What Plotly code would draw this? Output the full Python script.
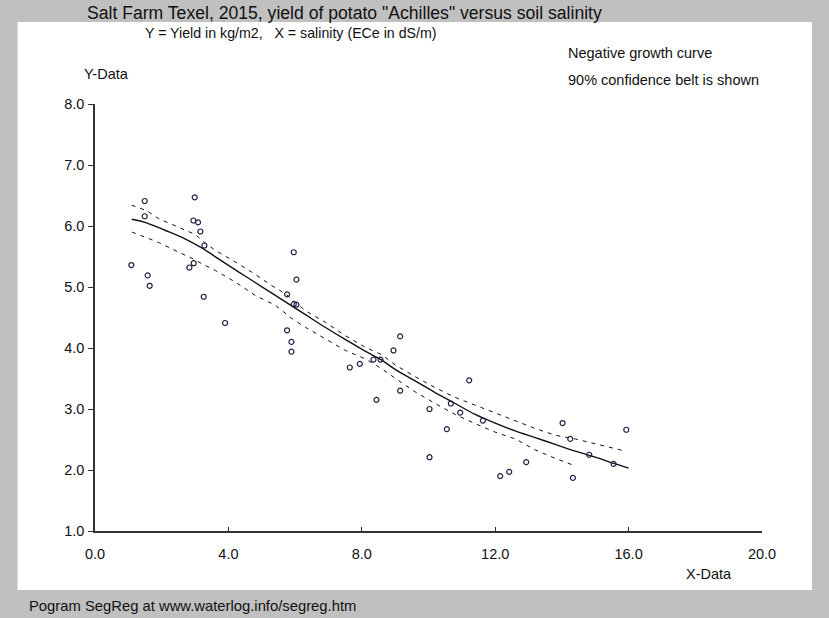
import plotly.graph_objects as go

# Observed yield of potato "Achilles" (kg/m2) versus soil salinity ECe (dS/m)
salinity = [1.09, 1.49, 1.49, 1.58, 1.64, 2.99, 2.95, 3.09, 3.16, 3.28, 2.96, 2.83, 3.26, 3.90,
            5.96, 6.04, 5.76, 6.04, 5.96, 5.76, 5.89, 5.89, 9.15, 8.95, 8.35, 8.56, 7.94, 7.64,
            9.15, 8.44, 11.22, 10.03, 10.67, 10.95, 11.63, 10.55, 10.03, 12.93, 12.15, 12.42,
            14.02, 14.25, 15.93, 14.82, 15.55, 14.33]
yield_obs = [5.36, 6.41, 6.16, 5.19, 5.02, 6.47, 6.09, 6.06, 5.91, 5.68, 5.39, 5.32, 4.84, 4.41,
             5.57, 5.12, 4.88, 4.71, 4.72, 4.29, 4.10, 3.94, 4.19, 3.96, 3.81, 3.81, 3.74, 3.68,
             3.30, 3.15, 3.47, 3.00, 3.09, 2.94, 2.81, 2.67, 2.21, 2.13, 1.90, 1.97,
             2.77, 2.51, 2.66, 2.25, 2.10, 1.87]

# Negative growth curve fitted through the observations
fit_x = [1.1, 1.5, 2.1, 2.7, 3.2, 3.9, 4.5, 5.1, 5.7, 6.3, 6.9, 7.5, 8.1, 8.6, 9.0,
         9.6, 10.2, 10.8, 11.4, 12.0, 12.6, 13.2, 13.8, 14.4, 15.0, 15.6, 16.0]
fit_y = [6.11, 6.06, 5.93, 5.79, 5.64, 5.39, 5.18, 4.97, 4.76, 4.55, 4.34, 4.14, 3.95, 3.80, 3.65,
         3.46, 3.27, 3.09, 2.91, 2.77, 2.64, 2.53, 2.42, 2.31, 2.21, 2.10, 2.03]

# 90% confidence belt
upper_x = [1.1, 1.56, 1.91, 2.51, 3.01, 3.21, 3.61, 4.21, 4.71, 5.31, 5.71, 6.31, 6.91, 7.51,
           8.11, 8.6, 9.01, 9.6, 10.2, 10.8, 11.4, 12.0, 12.6, 13.2, 13.8, 14.4, 15.0, 15.9]
upper_y = [6.34, 6.25, 6.12, 5.98, 5.86, 5.76, 5.60, 5.41, 5.24, 5.02, 4.89, 4.61, 4.42, 4.20,
           4.01, 3.89, 3.72, 3.53, 3.35, 3.19, 3.06, 2.94, 2.81, 2.68, 2.57, 2.51, 2.43, 2.31]
lower_x = [1.11, 1.51, 1.91, 2.51, 2.91, 3.21, 3.61, 4.21, 4.81, 5.41, 5.91, 6.31, 6.91, 7.51,
           8.11, 8.6, 9.01, 9.6, 10.2, 10.8, 11.4, 12.0, 12.6, 13.2, 13.8, 14.34]
lower_y = [5.90, 5.82, 5.73, 5.57, 5.47, 5.38, 5.27, 5.08, 4.86, 4.70, 4.48, 4.34, 4.15, 3.96,
           3.82, 3.66, 3.50, 3.28, 3.09, 2.91, 2.76, 2.62, 2.51, 2.33, 2.19, 2.08]

x_ticks = [0, 4, 8, 12, 16, 20]
x_tick_labels = ["0.0", "4.0", "8.0", "12.0", "16.0", "20.0"]
y_ticks = [1, 2, 3, 4, 5, 6, 7, 8]
y_tick_labels = ["1.0", "2.0", "3.0", "4.0", "5.0", "6.0", "7.0", "8.0"]

W, H = 829, 618
L, R, T, B = 94.5, 67, 104, 87
PW, PH = W - L - R, H - T - B


def px(x):
    return (x - L) / PW


def py(y):
    return (H - B - y) / PH


FONT = "Liberation Sans, Arial, sans-serif"
TXT = 14.5

fig = go.Figure()
fig.add_trace(go.Scatter(x=upper_x, y=upper_y, mode="lines",
                         line=dict(color="#111111", width=1, dash="4px,5px"), hoverinfo="skip"))
fig.add_trace(go.Scatter(x=lower_x, y=lower_y, mode="lines",
                         line=dict(color="#111111", width=1, dash="4px,5px"), hoverinfo="skip"))
fig.add_trace(go.Scatter(x=fit_x, y=fit_y, mode="lines",
                         line=dict(color="#111111", width=1.4, shape="spline"), hoverinfo="skip"))
fig.add_trace(go.Scatter(x=salinity, y=yield_obs, mode="markers",
                         marker=dict(symbol="circle-open", size=5, color="#202048",
                                     line=dict(width=1.2, color="#202048"))))

# white chart panel on the grey window
fig.add_shape(type="rect", xref="paper", yref="paper", layer="below",
              x0=px(17), x1=px(812), y0=py(590), y1=py(22),
              fillcolor="white", line=dict(width=0))


def label(text, x, y, size=TXT):
    fig.add_annotation(text=text, xref="paper", yref="paper", x=px(x), y=py(y),
                       xanchor="left", yanchor="middle", showarrow=False,
                       font=dict(family=FONT, size=size, color="#111111"))


label('Salt Farm Texel, 2015, yield of potato "Achilles" versus soil salinity', 84, 13, 17.6)
label("Y = Yield in kg/m2,   X = salinity (ECe in dS/m)", 143, 33, 14.2)
label("Y-Data", 81, 74)
label("Negative growth curve", 566, 53)
label("90% confidence belt is shown", 566, 80)
label("X-Data", 684, 574)
label("Pogram SegReg at www.waterlog.info/segreg.htm", 26, 606, 14.8)

fig.update_layout(
    width=W, height=H,
    margin=dict(l=L, r=R, t=T, b=B),
    paper_bgcolor="#c0c0c0", plot_bgcolor="white",
    showlegend=False,
    font=dict(family=FONT, size=TXT, color="#111111"),
    xaxis=dict(range=[0, 20], tickvals=x_ticks, ticktext=x_tick_labels,
               showgrid=False, zeroline=False, showline=True, linecolor="#333333", linewidth=2,
               ticks="inside", ticklen=4, tickcolor="#333333", tickwidth=1,
               ticklabelstandoff=9),
    yaxis=dict(range=[1, 8], tickvals=y_ticks, ticktext=y_tick_labels,
               showgrid=False, zeroline=False, showline=True, linecolor="#333333", linewidth=1.5,
               ticks="outside", ticklen=5, tickcolor="#333333", tickwidth=1,
               ticklabelstandoff=1),
)

fig.write_html("out.html")
